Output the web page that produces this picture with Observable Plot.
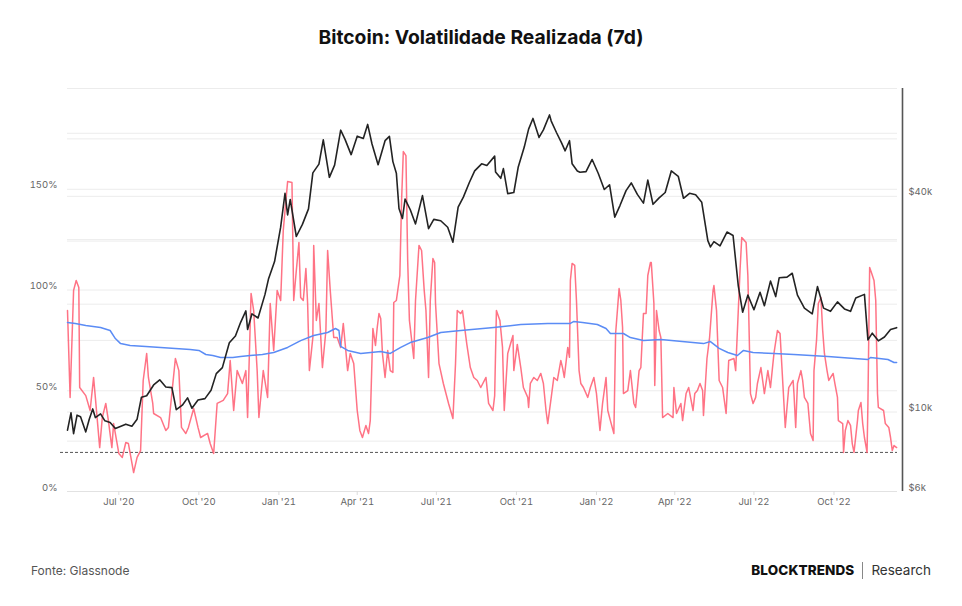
<!DOCTYPE html>
<html>
<head>
<meta charset="utf-8">
<script src="https://cdn.jsdelivr.net/npm/d3@7"></script>
<script src="https://cdn.jsdelivr.net/npm/@observablehq/plot@0.6"></script>
<style>
  html, body { margin: 0; padding: 0; background: #fff; }
  #wrap { position: relative; width: 962px; height: 606px; font-family: Inter, "Noto Sans", sans-serif; overflow: hidden; }
  #title { position: absolute; top: 26px; left: 0; width: 962px; text-align: center; font-size: 19.3px; line-height: 22px; font-weight: 700; color: #111; }
  #chart { position: absolute; top: 60px; left: 0; }
  #source { position: absolute; left: 31px; top: 562px; font-size: 12px; line-height: 18px; color: #555; }
  #brand { position: absolute; right: 31px; top: 561px; font-size: 13.5px; line-height: 18px; color: #333; display: flex; align-items: center; }
  #brand b { font-weight: 800; letter-spacing: 0.1px; color: #111; }
  #brand .sep { display: inline-block; width: 1px; height: 17px; background: #888; margin: 0 8px; }
</style>
</head>
<body>
<div id="wrap">
  <div id="title">Bitcoin: Volatilidade Realizada (7d)</div>
  <div id="chart"></div>
  <div id="source">Fonte: Glassnode</div>
  <div id="brand"><b>BLOCKTRENDS</b><span class="sep"></span><span>Research</span></div>
</div>
<script>
// 7-day realized volatility (%)
const volDates = [
  "2020-05-03","2020-05-06","2020-05-10","2020-05-13","2020-05-16","2020-05-17","2020-05-24","2020-05-29",
  "2020-06-02","2020-06-04","2020-06-09","2020-06-12","2020-06-16","2020-06-19","2020-06-23","2020-06-25",
  "2020-07-01","2020-07-05","2020-07-09","2020-07-12","2020-07-17","2020-07-18","2020-07-22","2020-07-26",
  "2020-07-29","2020-08-02","2020-08-04","2020-08-09","2020-08-10","2020-08-18","2020-08-24","2020-08-27",
  "2020-09-04","2020-09-08","2020-09-11","2020-09-16","2020-09-19","2020-09-25","2020-09-30","2020-10-03",
  "2020-10-11","2020-10-14","2020-10-18","2020-10-22","2020-10-29","2020-11-03","2020-11-06","2020-11-10",
  "2020-11-14","2020-11-20","2020-11-24","2020-11-26","2020-11-30","2020-12-03","2020-12-07","2020-12-09",
  "2020-12-14","2020-12-19","2020-12-22","2020-12-26","2020-12-30","2021-01-03","2021-01-06","2021-01-11",
  "2021-01-16","2021-01-18","2021-01-21","2021-01-24","2021-01-26","2021-01-29","2021-02-01","2021-02-03",
  "2021-02-05","2021-02-09","2021-02-10","2021-02-13","2021-02-16","2021-02-20","2021-02-24","2021-02-26",
  "2021-03-01","2021-03-05","2021-03-09","2021-03-13","2021-03-16","2021-03-21","2021-03-24","2021-03-28",
  "2021-04-01","2021-04-04","2021-04-07","2021-04-11","2021-04-14","2021-04-16","2021-04-19","2021-04-22",
  "2021-04-24","2021-04-26","2021-04-28","2021-04-30","2021-05-03","2021-05-06","2021-05-09","2021-05-12",
  "2021-05-13","2021-05-16","2021-05-20","2021-05-22","2021-05-24","2021-05-27","2021-05-29","2021-05-31",
  "2021-06-05","2021-06-07","2021-06-11","2021-06-14","2021-06-17","2021-06-19","2021-06-22","2021-06-24",
  "2021-06-27","2021-06-29","2021-06-30","2021-07-04","2021-07-09","2021-07-15","2021-07-20","2021-07-23",
  "2021-07-25","2021-07-29","2021-07-31","2021-08-05","2021-08-09","2021-08-13","2021-08-17","2021-08-21",
  "2021-08-27","2021-08-30","2021-09-04","2021-09-06","2021-09-08","2021-09-12","2021-09-15","2021-09-17",
  "2021-09-21","2021-09-27","2021-09-28","2021-10-02","2021-10-06","2021-10-09","2021-10-14","2021-10-15",
  "2021-10-17","2021-10-21","2021-10-25","2021-10-29","2021-11-01","2021-11-04","2021-11-06","2021-11-10",
  "2021-11-13","2021-11-17","2021-11-21","2021-11-23","2021-11-25","2021-11-29","2021-12-01","2021-12-02",
  "2021-12-04","2021-12-07","2021-12-09","2021-12-12","2021-12-14","2021-12-17","2021-12-22","2021-12-25",
  "2021-12-29","2022-01-01","2022-01-05","2022-01-08","2022-01-12","2022-01-14","2022-01-17","2022-01-21",
  "2022-01-23","2022-01-27","2022-01-29","2022-01-31","2022-02-01","2022-02-06","2022-02-09","2022-02-13",
  "2022-02-15","2022-02-19","2022-02-21","2022-02-24","2022-02-27","2022-03-01","2022-03-04","2022-03-05",
  "2022-03-08","2022-03-09","2022-03-11","2022-03-14","2022-03-16","2022-03-18","2022-03-24","2022-03-30",
  "2022-03-31","2022-04-03","2022-04-08","2022-04-10","2022-04-14","2022-04-17","2022-04-22","2022-04-24",
  "2022-04-27","2022-04-30","2022-05-03","2022-05-04","2022-05-08","2022-05-11","2022-05-15","2022-05-16",
  "2022-05-19","2022-05-22","2022-05-26","2022-05-30","2022-06-02","2022-06-08","2022-06-10","2022-06-12",
  "2022-06-15","2022-06-17","2022-06-22","2022-06-24","2022-06-25","2022-06-27","2022-06-30","2022-07-03",
  "2022-07-05","2022-07-09","2022-07-11","2022-07-13","2022-07-17","2022-07-20","2022-07-24","2022-07-28",
  "2022-07-31","2022-08-03","2022-08-06","2022-08-10","2022-08-15","2022-08-16","2022-08-18","2022-08-20",
  "2022-08-24","2022-08-26","2022-08-28","2022-09-01","2022-09-04","2022-09-07","2022-09-08","2022-09-11",
  "2022-09-13","2022-09-16","2022-09-18","2022-09-20","2022-09-23","2022-09-25","2022-09-30","2022-10-02",
  "2022-10-05","2022-10-06","2022-10-11","2022-10-12","2022-10-14","2022-10-17","2022-10-20","2022-10-22",
  "2022-10-24","2022-10-28","2022-10-29","2022-11-01","2022-11-03","2022-11-05","2022-11-08","2022-11-09",
  "2022-11-11","2022-11-13","2022-11-16","2022-11-18","2022-11-20","2022-11-21","2022-11-27","2022-11-29",
  "2022-12-03","2022-12-05","2022-12-07","2022-12-09","2022-12-12"
];
const volValues = [
  89.8, 46.7, 99.8, 104.7, 101.2, 51.6, 47.6, 40.2,
  56.6, 46.7, 21.8, 36.7, 43.7, 35.2, 21.8, 33.7,
  18.9, 16.9, 24.3, 23.8, 11.9, 9.4, 16.9, 20.3,
  55.1, 68.5, 56.6, 43.7, 38.7, 36.7, 30.3, 31.8,
  66.0, 60.0, 31.8, 28.8, 31.8, 41.2, 31.8, 26.8,
  28.8, 23.8, 18.9, 43.7, 45.2, 48.6, 65.0, 40.2,
  60.0, 53.6, 60.0, 36.7, 98.3, 89.8, 60.0, 36.7,
  60.0, 46.7, 93.3, 70.0, 99.8, 94.8, 129.5, 153.8,
  153.3, 94.8, 109.7, 123.6, 96.3, 94.8, 110.7, 93.3,
  60.0, 76.4, 122.1, 84.9, 93.3, 61.5, 79.9, 119.6,
  99.8, 76.4, 76.4, 71.5, 83.4, 60.0, 68.5, 63.5,
  40.2, 30.3, 26.8, 32.8, 28.8, 35.2, 80.9, 72.5,
  81.4, 88.3, 85.9, 68.5, 56.6, 70.0, 60.0, 59.1,
  93.8, 94.8, 107.2, 144.4, 168.7, 166.7, 114.6, 84.9,
  66.0, 94.8, 122.1, 119.6, 99.8, 89.8, 56.6, 94.8,
  115.6, 113.6, 93.3, 63.5, 53.6, 43.7, 36.2, 63.5,
  89.8, 88.3, 89.8, 73.0, 61.5, 56.6, 55.1, 51.6,
  56.6, 43.7, 40.2, 47.6, 89.8, 84.9, 71.5, 40.2,
  68.5, 77.4, 60.0, 73.0, 61.5, 51.6, 46.7, 41.7,
  53.6, 56.6, 55.1, 58.6, 53.6, 40.2, 33.7, 46.7,
  56.6, 55.1, 65.0, 61.5, 56.6, 71.5, 66.6, 104.7,
  113.2, 112.2, 94.8, 60.0, 53.6, 51.6, 46.7, 51.6,
  56.6, 48.6, 30.3, 43.7, 56.6, 40.2, 35.2, 28.8,
  78.4, 100.7, 94.8, 81.4, 48.6, 50.1, 60.0, 43.7,
  41.7, 60.0, 61.5, 88.3, 88.3, 107.2, 113.6, 113.6,
  93.3, 52.6, 89.8, 79.9, 76.4, 36.7, 38.7, 36.7,
  51.6, 38.7, 43.7, 35.2, 48.6, 51.6, 40.2, 48.6,
  50.1, 53.6, 50.1, 37.7, 66.0, 76.4, 99.8, 102.2,
  89.8, 55.1, 51.6, 38.7, 65.0, 66.0, 60.0, 79.9,
  109.7, 126.1, 123.6, 107.2, 88.3, 48.6, 43.7, 46.7,
  53.6, 61.5, 55.1, 48.6, 60.0, 51.6, 68.5, 79.9,
  78.4, 55.1, 31.8, 51.6, 55.1, 48.6, 31.8, 53.6,
  60.0, 55.1, 46.7, 43.7, 28.8, 25.3, 60.0, 75.4,
  93.3, 96.3, 79.9, 68.5, 60.0, 55.1, 58.6, 53.6,
  46.7, 35.2, 33.7, 19.4, 30.3, 35.2, 32.8, 23.8,
  19.4, 35.2, 40.2, 44.2, 33.7, 26.8, 19.4, 43.7,
  111.2, 108.7, 104.7, 94.8, 48.6, 41.7, 40.2, 33.7,
  31.8, 26.8, 20.3, 22.8, 21.8
];

// Long-run realized volatility (%)
const avgDates = [
  "2020-05-03","2020-05-12","2020-05-24","2020-06-10","2020-06-21","2020-06-27","2020-07-03","2020-07-14",
  "2020-08-01","2020-08-18","2020-09-04","2020-09-21","2020-10-01","2020-10-09","2020-10-17","2020-10-26",
  "2020-11-09","2020-11-18","2020-11-29","2020-12-13","2020-12-26","2021-01-11","2021-01-26","2021-02-10",
  "2021-02-26","2021-03-07","2021-03-11","2021-03-13","2021-03-21","2021-04-05","2021-04-28","2021-05-09",
  "2021-05-21","2021-06-01","2021-06-21","2021-07-06","2021-07-29","2021-09-05","2021-10-06","2021-11-06",
  "2021-12-02","2021-12-06","2021-12-16","2022-01-02","2022-01-12","2022-01-17","2022-02-01","2022-02-09",
  "2022-02-24","2022-03-16","2022-05-04","2022-05-12","2022-05-22","2022-06-01","2022-06-12","2022-06-19",
  "2022-06-30","2022-07-24","2022-08-16","2022-09-24","2022-11-09","2022-11-12","2022-12-02","2022-12-09",
  "2022-12-12"
];
const avgValues = [
  83.9, 83.4, 82.4, 81.4, 79.9, 75.9, 73.4, 72.5,
  72.0, 71.5, 71.0, 70.5, 70.0, 68.0, 67.5, 66.5,
  66.5, 67.0, 67.5, 68.0, 69.0, 71.5, 74.9, 77.4,
  78.9, 80.9, 79.9, 72.0, 70.0, 68.5, 69.5, 68.5,
  71.5, 73.9, 76.4, 78.9, 79.9, 81.4, 82.9, 83.4,
  83.4, 84.4, 83.9, 82.9, 80.9, 78.4, 78.4, 76.4,
  74.9, 75.4, 73.4, 74.4, 71.0, 69.0, 67.5, 70.0,
  69.0, 68.5, 68.0, 67.0, 65.5, 66.5, 65.5, 64.0,
  64.0
];

// Bitcoin price (USD)
const priceDates = [
  "2020-05-03","2020-05-07","2020-05-10","2020-05-14","2020-05-18","2020-05-24","2020-05-28","2020-06-01",
  "2020-06-04","2020-06-10","2020-06-15","2020-06-21","2020-06-27","2020-07-02","2020-07-09","2020-07-16",
  "2020-07-22","2020-07-27","2020-08-02","2020-08-10","2020-08-17","2020-08-24","2020-08-31","2020-09-05",
  "2020-09-12","2020-09-18","2020-09-23","2020-09-30","2020-10-08","2020-10-15","2020-10-21","2020-10-28",
  "2020-11-05","2020-11-12","2020-11-18","2020-11-24","2020-11-26","2020-12-01","2020-12-08","2020-12-16",
  "2020-12-20","2020-12-27","2021-01-03","2021-01-08","2021-01-11","2021-01-14","2021-01-21","2021-01-28",
  "2021-02-04","2021-02-09","2021-02-16","2021-02-21","2021-02-28","2021-03-06","2021-03-13","2021-03-18",
  "2021-03-25","2021-04-01","2021-04-08","2021-04-13","2021-04-18","2021-04-25","2021-05-03","2021-05-08",
  "2021-05-12","2021-05-16","2021-05-19","2021-05-23","2021-05-26","2021-06-01","2021-06-07","2021-06-15",
  "2021-06-22","2021-06-28","2021-07-06","2021-07-14","2021-07-20","2021-07-26","2021-08-01","2021-08-08",
  "2021-08-14","2021-08-22","2021-08-28","2021-09-06","2021-09-07","2021-09-13","2021-09-16","2021-09-21",
  "2021-09-28","2021-10-03","2021-10-10","2021-10-15","2021-10-20","2021-10-27","2021-11-01","2021-11-08",
  "2021-11-10","2021-11-16","2021-11-22","2021-11-26","2021-12-01","2021-12-04","2021-12-10","2021-12-13",
  "2021-12-20","2021-12-27","2022-01-03","2022-01-10","2022-01-16","2022-01-22","2022-01-28","2022-02-04",
  "2022-02-10","2022-02-17","2022-02-24","2022-03-01","2022-03-07","2022-03-14","2022-03-21","2022-03-28",
  "2022-04-05","2022-04-11","2022-04-18","2022-04-25","2022-05-02","2022-05-09","2022-05-12","2022-05-16",
  "2022-05-23","2022-05-31","2022-06-07","2022-06-13","2022-06-18","2022-06-24","2022-07-01","2022-07-08",
  "2022-07-13","2022-07-20","2022-07-26","2022-07-30","2022-08-08","2022-08-14","2022-08-20","2022-08-28",
  "2022-09-06","2022-09-12","2022-09-19","2022-09-27","2022-10-05","2022-10-13","2022-10-20","2022-10-26",
  "2022-11-05","2022-11-09","2022-11-14","2022-11-21","2022-11-28","2022-12-05","2022-12-12"
];
const priceValues = [
  8900, 9950, 8700, 9800, 9700, 8800, 9550, 10200,
  9650, 9880, 9450, 9350, 9000, 9100, 9250, 9130,
  9550, 11000, 11100, 11900, 12300, 11750, 11700, 10150,
  10450, 10950, 10250, 10800, 10900, 11500, 12800, 13300,
  15600, 16300, 17800, 19150, 17000, 18800, 18300, 21300,
  23500, 26300, 32800, 40800, 35500, 39200, 30900, 33400,
  36900, 46500, 49200, 57500, 45200, 48900, 61200, 57700,
  52300, 58900, 58000, 63500, 56000, 49000, 57200, 58800,
  50000, 46400, 37000, 34700, 39300, 36700, 33500, 40200,
  32500, 34500, 34200, 32800, 29800, 37300, 39800, 43800,
  47100, 49300, 48800, 51800, 46800, 44900, 47800, 40700,
  41000, 48200, 54900, 61600, 66000, 58400, 61300, 67500,
  64900, 60300, 56300, 53600, 57200, 49300, 47100, 46700,
  46900, 50700, 46400, 41800, 43100, 35000, 37700, 41500,
  43600, 40500, 38300, 44400, 38000, 39600, 41000, 47100,
  45500, 39500, 40800, 40400, 38500, 30100, 28900, 29900,
  29100, 31800, 31100, 22500, 19000, 21200, 19300, 21600,
  19800, 23200, 21000, 23700, 23800, 24400, 21200, 19500,
  18800, 22400, 19500, 19100, 20300, 19400, 19100, 20800,
  21300, 15900, 16600, 15800, 16200, 17000, 17200
];

// Reference level drawn as a dashed rule (%)
const referenceLevel = 19.4;

// Axis ticks and labels
const volTicks = [0, 50, 100, 150];
const volGrid = [0, 25, 50, 75, 100, 125, 150, 175, 200];
const priceTicks = [6000, 10000, 40000];
const priceGrid = [10000, 20000, 30000, 40000, 60000];
const dateTicks = ["2020-07-01","2020-10-01","2021-01-01","2021-04-01","2021-07-01","2021-10-01","2022-01-01","2022-04-01","2022-07-01","2022-10-01"];
const dateDomain = ["2020-05-03", "2022-12-13"];

// Price is drawn on a log scale sharing the vertical space of the volatility axis
const volDomain = [0, 200];
const priceDomain = [6000, 80000];
const priceToVol = d3.scaleLog().domain(priceDomain).range(volDomain);

const vol = volDates.map((d, i) => ({date: new Date(d), value: volValues[i]}));
const avg = avgDates.map((d, i) => ({date: new Date(d), value: avgValues[i]}));
const price = priceDates.map((d, i) => ({date: new Date(d), value: priceToVol(priceValues[i])}));

const labelFont = 9.5;
const formatMonth = d3.utcFormat("%b '%y");

const chart = Plot.plot({
  width: 962,
  height: 460,
  marginTop: 28,
  marginBottom: 29,
  marginLeft: 67,
  marginRight: 65,
  style: {fontFamily: "Inter, 'Noto Sans', sans-serif", background: "transparent"},
  x: {type: "utc", domain: dateDomain.map(d => new Date(d))},
  y: {domain: volDomain},
  marks: [
    // grid lines of both axes
    Plot.ruleY(volGrid, {stroke: "#ececec", strokeWidth: 1}),
    Plot.ruleY(priceGrid.map(p => priceToVol(p)), {stroke: "#ececec", strokeWidth: 1}),
    Plot.ruleY([0], {stroke: "#e2e2e2", strokeWidth: 1}),
    // dashed reference level
    Plot.ruleY([referenceLevel], {stroke: "#555", strokeWidth: 1, strokeDasharray: "3,2", insetLeft: -7}),
    // series
    Plot.line(vol, {x: "date", y: "value", stroke: "#ff5a70", strokeOpacity: 0.85, strokeWidth: 1.5}),
    Plot.line(avg, {x: "date", y: "value", stroke: "#5b8cf5", strokeWidth: 1.5}),
    Plot.line(price, {x: "date", y: "value", stroke: "#232323", strokeWidth: 1.6}),
    // right price axis line
    Plot.ruleX([new Date(dateDomain[1])], {y1: 0, y2: 200, dx: 5, stroke: "#555", strokeWidth: 1.6}),
    // axes
    Plot.axisY(volTicks, {
      anchor: "left", tickSize: 0, tickPadding: 10, dy: -4,
      tickFormat: v => v + "%", fontSize: labelFont, fill: "#666", label: null
    }),
    Plot.axisY(priceTicks.map(p => priceToVol(p)), {
      anchor: "right", tickSize: 0, tickPadding: 11, dy: -4,
      tickFormat: v => "$" + Math.round(priceToVol.invert(v) / 1000) + "k",
      fontSize: labelFont, fill: "#666", label: null
    }),
    Plot.axisX(dateTicks.map(d => new Date(d)), {
      tickSize: 4, tickPadding: 3, stroke: "#dcdcdc", fill: "#666",
      tickFormat: formatMonth, fontSize: labelFont, label: null
    })
  ]
});

document.getElementById("chart").appendChild(chart);
</script>
</body>
</html>
